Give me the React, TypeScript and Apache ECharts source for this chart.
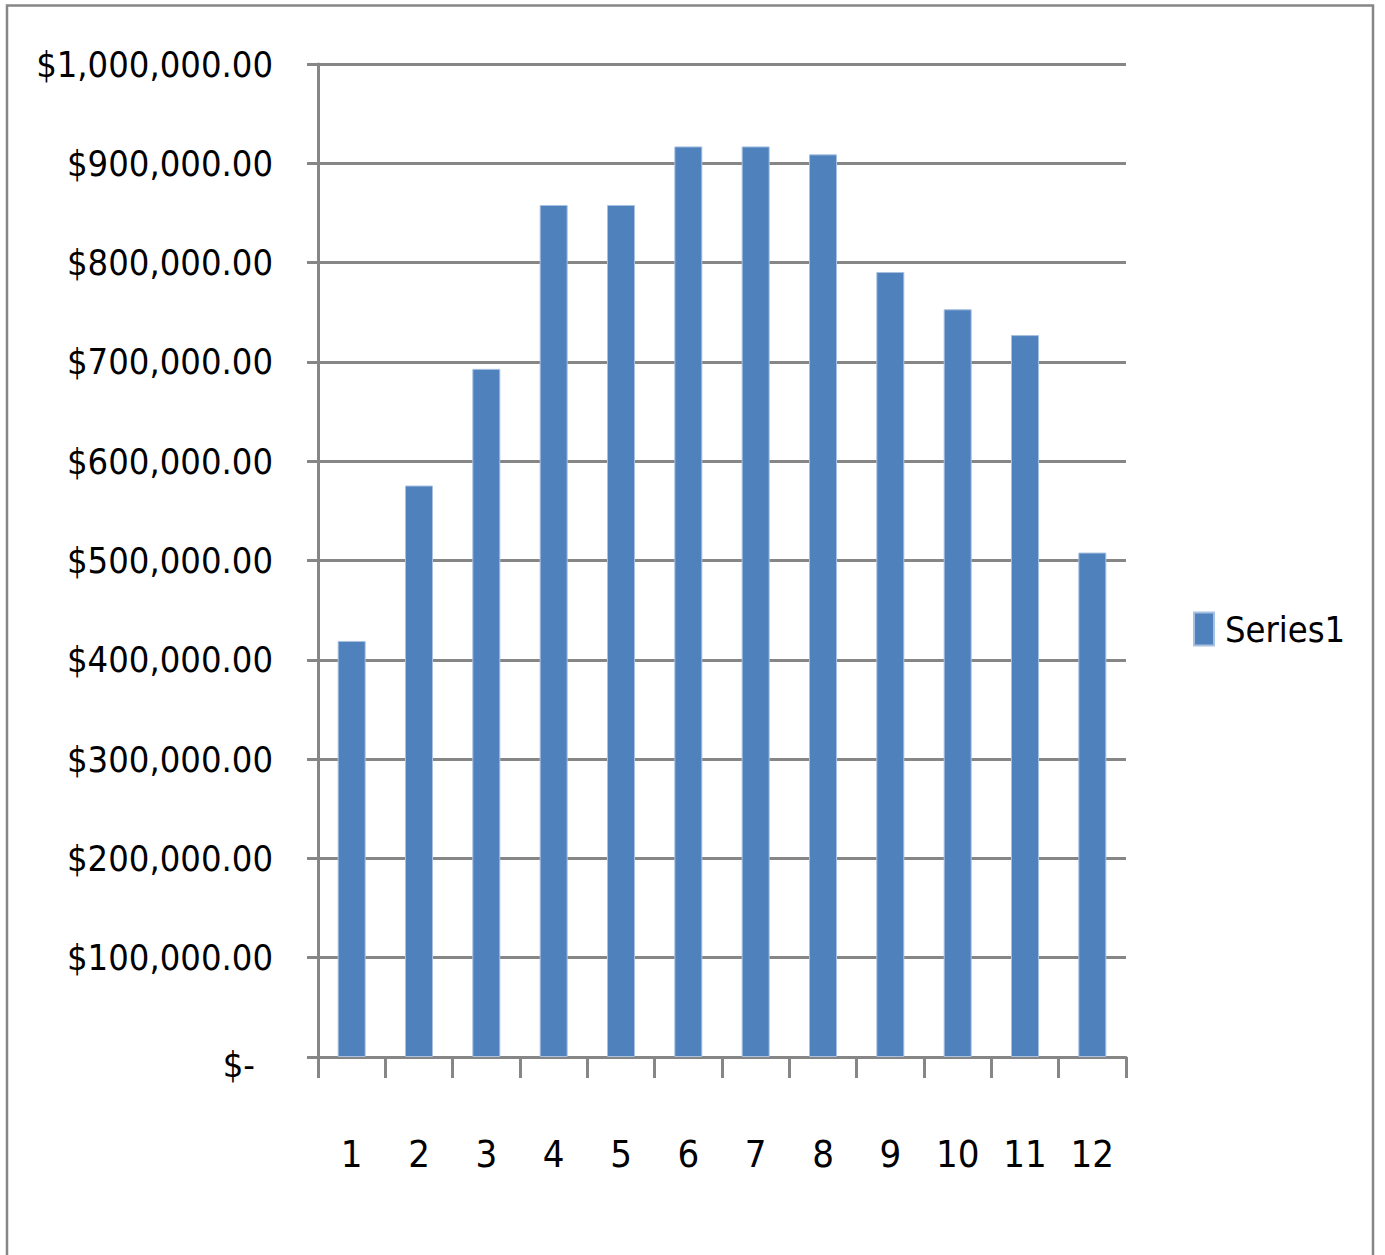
import React, { useEffect, useRef } from "react";
import * as echarts from "echarts";

const categories = ["1", "2", "3", "4", "5", "6", "7", "8", "9", "10", "11", "12"];
const series1 = [419000, 575500, 693000, 858000, 858000, 917000, 917000, 909000, 790500, 753000, 727000, 508000];

const FONT = '"Liberation Sans Narrow", "DejaVu Sans Condensed", "Liberation Sans", sans-serif';
const GRAY = "#868686";

function fmt(v: number): string {
  if (v === 0) return "{z|$-}";
  return "$" + v.toLocaleString("en-US", { minimumFractionDigits: 2, maximumFractionDigits: 2 });
}

export default function App() {
  const ref = useRef<HTMLDivElement>(null);
  useEffect(() => {
    document.body.style.margin = "0";
    const chart = echarts.init(ref.current!, null, { renderer: "svg" });
    chart.setOption({
      animation: false,
      backgroundColor: "#ffffff",
      graphic: [
        {
          type: "rect",
          shape: { x: 7, y: 5.5, width: 1366, height: 1280 },
          style: { fill: "none", stroke: GRAY, lineWidth: 2.5 },
          silent: true,
        },
      ],
      grid: { left: 318, right: 259, top: 64, bottom: 198, containLabel: false },
      legend: {
        data: ["Series1"],
        orient: "vertical",
        left: 1188,
        top: 606,
        icon: "rect",
        itemWidth: 20,
        itemHeight: 33,
        itemGap: 10,
        textStyle: { fontFamily: FONT, fontSize: 36, color: "#000", padding: [0, 0, 0, 6] },
      },
      xAxis: {
        type: "category",
        data: categories,
        boundaryGap: true,
        axisLine: { show: true, lineStyle: { color: GRAY, width: 3 } },
        axisTick: { show: true, alignWithLabel: false, length: 21, lineStyle: { color: GRAY, width: 3 } },
        axisLabel: { fontFamily: FONT, fontSize: 38, color: "#000", margin: 78 },
        splitLine: { show: false },
      },
      yAxis: {
        type: "value",
        min: 0,
        max: 1000000,
        interval: 100000,
        axisLine: { show: true, lineStyle: { color: GRAY, width: 3 } },
        axisTick: { show: true, length: 11, lineStyle: { color: GRAY, width: 3 } },
        axisLabel: {
          fontFamily: FONT,
          fontSize: 36,
          color: "#000",
          margin: 45,
          formatter: (v: number) => fmt(v),
          rich: {
            z: { fontFamily: FONT, fontSize: 36, color: "#000", padding: [14, 18, 0, 0] },
          },
        },
        splitLine: { show: true, lineStyle: { color: GRAY, width: 3 } },
      },
      series: [
        {
          name: "Series1",
          type: "bar",
          data: series1,
          barWidth: 28,
          itemStyle: { color: "#4F81BD", borderColor: "#A9C1E0", borderWidth: 1 },
        },
      ],
    });
    return () => chart.dispose();
  }, []);
  return (
    <div
      ref={ref}
      style={{ position: "fixed", left: 0, top: 0, width: 1385, height: 1255, background: "#fff" }}
    />
  );
}
